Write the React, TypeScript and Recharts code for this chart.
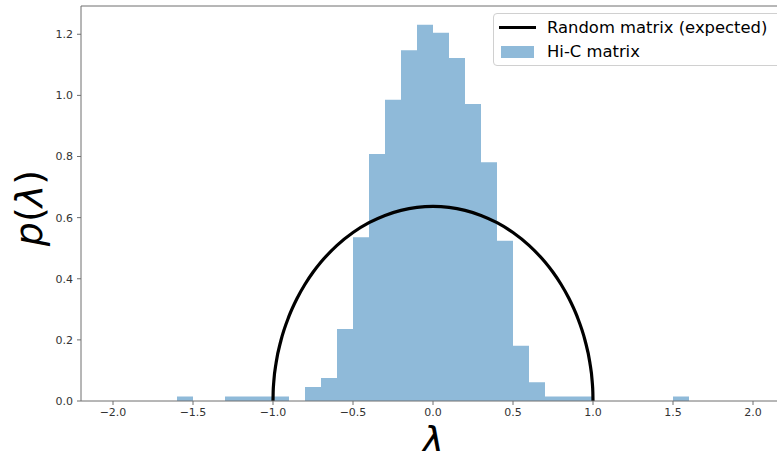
import React from 'react';
import { ComposedChart, Area, Line, XAxis, YAxis, ReferenceLine } from 'recharts';

// histogram bins (density), bin width 0.1
const histEdges = [
  -1.6, -1.5, -1.4, -1.3, -1.2, -1.1, -1.0, -0.9, -0.8, -0.7, -0.6, -0.5, -0.4, -0.3, -0.2, -0.1,
  0.0, 0.1, 0.2, 0.3, 0.4, 0.5, 0.6, 0.7, 0.8, 0.9, 1.0, 1.1, 1.2, 1.3, 1.4, 1.5, 1.6,
];
const histDensity = [
  0.015, 0, 0, 0.015, 0.015, 0.015, 0.015, 0, 0.046, 0.075, 0.236, 0.536, 0.808, 0.986, 1.148, 1.231,
  1.205, 1.122, 0.972, 0.781, 0.524, 0.181, 0.061, 0.015, 0.015, 0.015, 0, 0, 0, 0, 0, 0.015,
];

// expected semicircle
const wignerX = [
  -1.0, -0.999, -0.995, -0.98, -0.95, -0.9, -0.85, -0.8, -0.75, -0.7, -0.6, -0.5, -0.4, -0.3, -0.2, -0.1,
  0.0, 0.1, 0.2, 0.3, 0.4, 0.5, 0.6, 0.7, 0.75, 0.8, 0.85, 0.9, 0.95, 0.98, 0.995, 0.999, 1.0,
];
const wignerY = [
  0, 0.0285, 0.0636, 0.1267, 0.1988, 0.2775, 0.3354, 0.382, 0.4211, 0.4546, 0.5093, 0.5513, 0.5835, 0.6073, 0.6237, 0.6334,
  0.6366, 0.6334, 0.6237, 0.6073, 0.5835, 0.5513, 0.5093, 0.4546, 0.4211, 0.382, 0.3354, 0.2775, 0.1988, 0.1267, 0.0636, 0.0285, 0,
];

const xTicks = [-2, -1.5, -1, -0.5, 0, 0.5, 1, 1.5, 2];
const yTicks = [0, 0.2, 0.4, 0.6, 0.8, 1.0, 1.2];
const legendLabels = ['Random matrix (expected)', 'Hi-C matrix'];

const X_MIN = -2.2;
const X_MAX = 2.2;
const Y_MAX = 1.2925;

const HIST_COLOR = '#8fbad9';
const AXIS_COLOR = '#6e6e6e';
const FONT = '"DejaVu Sans", sans-serif';

// merge both series on one x key
const rows = new Map<string, any>();
const put = (x: number, key: string, v: number) => {
  const k = x.toFixed(4);
  const r = rows.get(k) || { x };
  r[key] = v;
  rows.set(k, r);
};
histEdges.forEach((x, i) => put(x, 'hist', i < histDensity.length ? histDensity[i] : 0));
wignerX.forEach((x, i) => put(x, 'wigner', wignerY[i]));
const data = Array.from(rows.values()).sort((a, b) => a.x - b.x);

const fmt = (v: number) => v.toFixed(1).replace('-', '\u2212');
const tickStyle = { fontSize: 11, fill: '#333', fontFamily: FONT };

const App = () => {
  return (
    <div style={{ position: 'fixed', left: 0, top: 0, width: 777, height: 451, overflow: 'hidden', background: '#fff' }}>
      <ComposedChart width={800} height={451} data={data} margin={{ top: 6, right: 15, bottom: 0, left: 0 }}>
        <XAxis
          dataKey="x"
          type="number"
          domain={[X_MIN, X_MAX]}
          allowDataOverflow
          ticks={xTicks}
          interval={0}
          tickFormatter={fmt}
          height={50}
          tickSize={4}
          tickMargin={3}
          tick={tickStyle}
          axisLine={{ stroke: AXIS_COLOR }}
          tickLine={{ stroke: AXIS_COLOR }}
        />
        <YAxis
          type="number"
          domain={[0, Y_MAX]}
          allowDataOverflow
          ticks={yTicks}
          interval={0}
          tickFormatter={fmt}
          width={81}
          tickSize={4}
          tickMargin={4}
          tick={tickStyle}
          axisLine={{ stroke: AXIS_COLOR }}
          tickLine={{ stroke: AXIS_COLOR }}
        />
        <ReferenceLine y={Y_MAX} stroke={AXIS_COLOR} />
        <Area
          dataKey="hist"
          type="stepAfter"
          connectNulls
          fill={HIST_COLOR}
          fillOpacity={1}
          stroke="none"
          isAnimationActive={false}
        />
        <Line
          dataKey="wigner"
          type="monotone"
          connectNulls
          stroke="#000"
          strokeWidth={3.2}
          dot={false}
          activeDot={false}
          isAnimationActive={false}
        />
      </ComposedChart>

      <svg width={777} height={451} style={{ position: 'absolute', left: 0, top: 0, pointerEvents: 'none' }}>
        <text
          x={41.5}
          y={208}
          textAnchor="middle"
          fontSize={38}
          fontFamily={FONT}
          fill="#000"
          transform="rotate(-90 41.5 208)"
        >
          <tspan fontStyle="italic">p</tspan>(<tspan fontStyle="italic">λ</tspan>)
        </text>
        <text x={433} y={453} textAnchor="middle" fontSize={38} fontFamily={FONT} fontStyle="italic" fill="#000">
          λ
        </text>
      </svg>

      <div
        style={{
          position: 'absolute',
          left: 493,
          top: 13,
          width: 292,
          height: 53,
          boxSizing: 'border-box',
          border: '1px solid #d0d0d0',
          borderRadius: 4,
          background: 'rgba(255,255,255,0.8)',
          fontFamily: FONT,
          fontSize: 16.4,
          color: '#000',
        }}
      >
        <div style={{ position: 'absolute', left: 5, top: 12, width: 37, height: 3, background: '#000' }} />
        <div style={{ position: 'absolute', left: 53, top: 2, lineHeight: '24px', whiteSpace: 'nowrap' }}>{legendLabels[0]}</div>
        <div style={{ position: 'absolute', left: 7, top: 32, width: 33, height: 12, background: HIST_COLOR }} />
        <div style={{ position: 'absolute', left: 53, top: 26, lineHeight: '24px', whiteSpace: 'nowrap' }}>{legendLabels[1]}</div>
      </div>
    </div>
  );
};

export default App;
